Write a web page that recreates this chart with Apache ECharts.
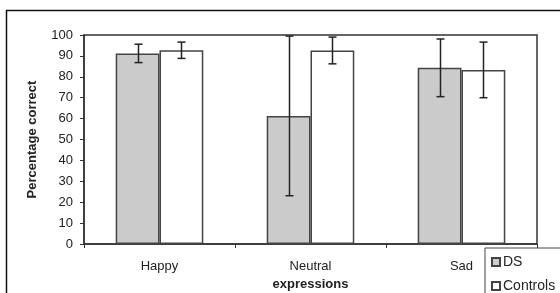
<!DOCTYPE html>
<html>
<head>
<meta charset="utf-8">
<script src="https://cdn.jsdelivr.net/npm/echarts@6/dist/echarts.min.js"></script>
<style>
html,body{margin:0;padding:0;background:#fff;}
#chart{width:560px;height:293px;}
</style>
</head>
<body>
<div id="chart"></div>
<script>
var categories = ['Happy', 'Neutral', 'Sad'];
var dsMean = [91.2, 61.3, 84.3];
var dsErr = [4.4, 38.2, 13.8];
var ctrlMean = [92.7, 92.6, 83.3];
var ctrlErr = [3.9, 6.4, 13.3];
var yTicks = [0, 10, 20, 30, 40, 50, 60, 70, 80, 90, 100];

var GAP = 0.42;
var FONT = 'Liberation Sans, Arial, sans-serif';
var chart = echarts.init(document.getElementById('chart'), null, {renderer: 'canvas'});

function errSeries(name, means, errs, side) {
  var data = means.map(function (m, i) { return [i, m - errs[i], m + errs[i]]; });
  return {
    type: 'custom',
    name: name + ' err',
    data: data,
    z: 10,
    silent: true,
    renderItem: function (params, api) {
      var band = api.size([1, 0])[0];
      var bw = band * (1 - GAP) / 2;
      var lo = api.coord([api.value(0), api.value(1)]);
      var hi = api.coord([api.value(0), api.value(2)]);
      var x = Math.round(lo[0] + side * bw / 2) + 0.5;
      var c = 4;
      var st = {stroke: '#222', lineWidth: 1.5};
      return {
        type: 'group',
        children: [
          {type: 'line', shape: {x1: x, y1: lo[1], x2: x, y2: hi[1]}, style: st},
          {type: 'line', shape: {x1: x - c, y1: lo[1], x2: x + c, y2: lo[1]}, style: st},
          {type: 'line', shape: {x1: x - c, y1: hi[1], x2: x + c, y2: hi[1]}, style: st}
        ]
      };
    }
  };
}

var option = {
  animation: false,
  textStyle: {fontFamily: FONT, color: '#222'},
  grid: {left: 84, right: 23, top: 35, bottom: 49, containLabel: false, outerBoundsMode: 'none',
         show: true, borderColor: '#333', borderWidth: 1.5, backgroundColor: '#fff'},
  graphic: [{
    type: 'rect', z: -10,
    shape: {x: 6.5, y: 10.5, width: 600, height: 300},
    style: {fill: 'none', stroke: '#111', lineWidth: 1.5}
  }],
  legend: {
    orient: 'vertical',
    left: 485, top: 248,
    height: 80, width: 120,
    data: ['DS', 'Controls'],
    icon: 'rect',
    itemWidth: 8, itemHeight: 8, itemGap: 10,
    padding: [7, 30, 10, 6],
    borderColor: '#444', borderWidth: 1,
    backgroundColor: '#fff',
    textStyle: {fontSize: 14, color: '#222', fontFamily: FONT, padding: [0, 0, 0, -2]}
  },
  xAxis: {
    type: 'category',
    data: categories,
    name: 'expressions',
    nameLocation: 'middle',
    nameGap: 34,
    nameTextStyle: {fontWeight: 'bold', fontSize: 13, color: '#222', fontFamily: FONT},
    axisLine: {lineStyle: {color: '#333', width: 1.5}},
    axisTick: {show: true, length: 4, lineStyle: {color: '#333'}},
    axisLabel: {fontSize: 13, color: '#222', margin: 16, fontFamily: FONT}
  },
  yAxis: {
    type: 'value',
    min: 0, max: 100, interval: 10,
    name: 'Percentage correct',
    nameLocation: 'middle',
    nameGap: 45,
    nameTextStyle: {fontWeight: 'bold', fontSize: 13, color: '#222', fontFamily: FONT},
    axisLine: {show: true, lineStyle: {color: '#333', width: 1.5}},
    axisTick: {show: true, length: 4, lineStyle: {color: '#333'}},
    splitLine: {show: false},
    axisLabel: {fontSize: 13, color: '#222', margin: 11, fontFamily: FONT, formatter: function (v) { return yTicks.indexOf(v) >= 0 ? String(v) : ''; }}
  },
  series: [
    {
      name: 'DS', type: 'bar', data: dsMean,
      barGap: '0%', barCategoryGap: (GAP * 100) + '%',
      itemStyle: {color: '#cbcbcb', borderColor: '#444', borderWidth: 1.5}
    },
    {
      name: 'Controls', type: 'bar', data: ctrlMean,
      barGap: '0%', barCategoryGap: (GAP * 100) + '%',
      itemStyle: {color: '#ffffff', borderColor: '#444', borderWidth: 1.5}
    },
    errSeries('DS', dsMean, dsErr, -1),
    errSeries('Controls', ctrlMean, ctrlErr, 1)
  ]
};
chart.setOption(option);
</script>
</body>
</html>
